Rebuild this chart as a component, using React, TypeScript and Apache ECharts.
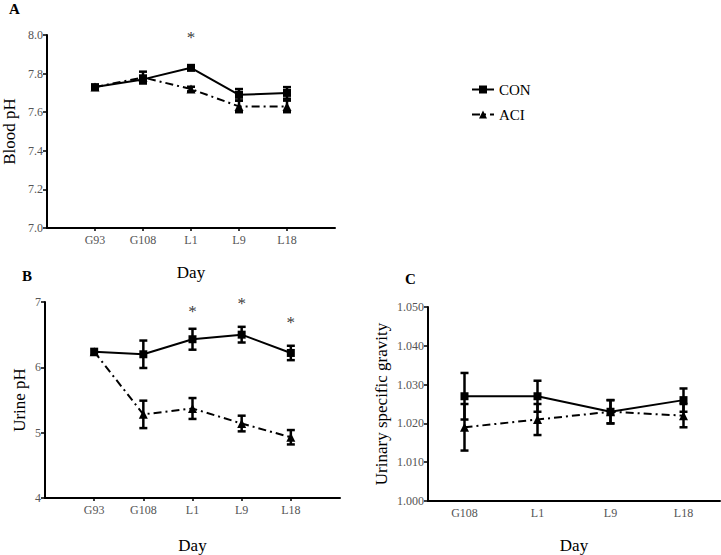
import React, { useEffect, useRef } from 'react';
import * as echarts from 'echarts';

const daysAB = ['G93', 'G108', 'L1', 'L9', 'L18'];
const daysC = ['G108', 'L1', 'L9', 'L18'];

const bloodCON = [7.73, 7.77, 7.83, 7.69, 7.7];
const bloodCONErr = [0, 0.02, 0.012, 0.03, 0.03];
const bloodACI = [7.73, 7.78, 7.72, 7.63, 7.63];
const bloodACIErr = [0, 0.03, 0.012, 0.03, 0.03];
const bloodSigDays = ['L1'];
const bloodSigY = [7.985];

const urineCON = [6.24, 6.2, 6.43, 6.5, 6.22];
const urineCONErr = [0, 0.21, 0.16, 0.12, 0.11];
const urineACI = [6.24, 5.28, 5.37, 5.14, 4.93];
const urineACIErr = [0, 0.21, 0.16, 0.12, 0.11];
const urineSigDays = ['L1', 'L9', 'L18'];
const urineSigY = [6.86, 6.97, 6.69];

const sgCON = [1.027, 1.027, 1.023, 1.026];
const sgCONErr = [0.006, 0.004, 0.003, 0.003];
const sgACI = [1.019, 1.021, 1.023, 1.022];
const sgACIErr = [0.006, 0.004, 0.003, 0.003];

const FONT = '"Liberation Serif", "Times New Roman", Times, serif';

function errSeries(axisIdx: number, xs: number[], vals: number[], errs: number[], z: number) {
  const data: number[][] = [];
  vals.forEach((v, i) => {
    if (errs[i] > 0) data.push([xs[i], v - errs[i], v + errs[i]]);
  });
  return {
    type: 'custom',
    xAxisIndex: axisIdx,
    yAxisIndex: axisIdx,
    encode: { x: 0, y: [1, 2] },
    data,
    z,
    silent: true,
    renderItem: (params: any, api: any) => {
      const x = api.value(0);
      const lo = api.value(1);
      const hi = api.value(2);
      const p1 = api.coord([x, hi]);
      const p2 = api.coord([x, lo]);
      const w = 4;
      const style = { stroke: '#000', lineWidth: 2.5 };
      return {
        type: 'group',
        children: [
          { type: 'line', shape: { x1: p1[0], y1: p1[1], x2: p2[0], y2: p2[1] }, style },
          { type: 'line', shape: { x1: p1[0] - w, y1: p1[1], x2: p1[0] + w, y2: p1[1] }, style },
          { type: 'line', shape: { x1: p2[0] - w, y1: p2[1], x2: p2[0] + w, y2: p2[1] }, style },
        ],
      };
    },
  };
}

function lineSeries(name: string, axisIdx: number, xs: number[], vals: number[], isCon: boolean) {
  return {
    type: 'line',
    name,
    xAxisIndex: axisIdx,
    yAxisIndex: axisIdx,
    data: vals.map((v, i) => [xs[i], v]),
    symbol: isCon ? 'rect' : 'triangle',
    symbolSize: isCon ? 8 : 9,
    itemStyle: { color: '#000' },
    lineStyle: isCon ? { color: '#000', width: 2 } : { color: '#000', width: 2, type: [8, 4, 2, 4] },
    z: isCon ? 5 : 4,
  };
}

function sigSeries(axisIdx: number, cats: string[], days: string[], ys: number[], offset: number) {
  return {
    type: 'scatter',
    xAxisIndex: axisIdx,
    yAxisIndex: axisIdx,
    symbolSize: 1,
    itemStyle: { color: 'rgba(0,0,0,0)' },
    silent: true,
    data: days.map((d, i) => [cats.indexOf(d) + offset, ys[i]]),
    label: {
      show: true,
      position: 'inside',
      formatter: '*',
      color: '#000',
      textBorderWidth: 0,
      fontSize: 17,
      fontFamily: FONT,
    },
  };
}

function xAxisAB(gridIndex: number, nameGap: number) {
  return {
    type: 'category',
    gridIndex,
    data: [' ', ...daysAB, '  '],
    boundaryGap: false,
    axisLine: { lineStyle: { color: '#000', width: 2 } },
    axisTick: { length: 3, lineStyle: { color: '#000', width: 1.5 }, interval: (i: number) => i >= 1 && i <= 5 },
    axisLabel: { color: '#555', fontSize: 12, fontFamily: FONT, interval: 0, margin: 6 },
    name: 'Day',
    nameLocation: 'middle',
    nameGap,
    nameTextStyle: { color: '#000', fontSize: 17, fontFamily: FONT },
    splitLine: { show: false },
  };
}

function yAxis(gridIndex: number, min: number, max: number, interval: number, digits: number, name: string, nameGap: number) {
  return {
    type: 'value',
    gridIndex,
    min,
    max,
    interval,
    axisLine: { show: true, lineStyle: { color: '#000', width: 2 } },
    axisTick: { show: true, length: 4, lineStyle: { color: '#000', width: 1.5 } },
    axisLabel: { color: '#555', fontSize: 12, fontFamily: FONT, margin: 4, formatter: (v: number) => v.toFixed(digits) },
    splitLine: { show: false },
    name,
    nameLocation: 'middle',
    nameGap,
    nameTextStyle: { color: '#000', fontSize: 17, fontFamily: FONT },
  };
}

export default function App() {
  const ref = useRef<HTMLDivElement>(null);
  useEffect(() => {
    if (!ref.current) return;
    const chart = echarts.init(ref.current, null, { renderer: 'svg' });
    const xsAB = daysAB.map((_, i) => i + 1);
    const xsC = daysC.map((_, i) => i);
    const option: any = {
      animation: false,
      textStyle: { fontFamily: FONT },
      grid: [
        { left: 44, top: 35, width: 291, height: 193 },
        { left: 45, top: 302, width: 295, height: 200 },
        { left: 428, top: 307, width: 292, height: 194 },
      ],
      xAxis: [
        xAxisAB(0, 36),
        xAxisAB(1, 39),
        {
          type: 'category',
          gridIndex: 2,
          data: daysC,
          boundaryGap: true,
          axisLine: { lineStyle: { color: '#000', width: 2 } },
          axisTick: { length: 3, alignWithLabel: true, lineStyle: { color: '#000', width: 1.5 } },
          axisLabel: { color: '#555', fontSize: 12, fontFamily: FONT, interval: 0, margin: 6 },
          name: 'Day',
          nameLocation: 'middle',
          nameGap: 36,
          nameTextStyle: { color: '#000', fontSize: 17, fontFamily: FONT },
        },
      ],
      yAxis: [
        yAxis(0, 7.0, 8.0, 0.2, 1, 'Blood pH', 29),
        yAxis(1, 4, 7, 1, 0, 'Urine pH', 17),
        yAxis(2, 1.0, 1.05, 0.01, 3, 'Urinary specific gravity', 38),
      ],
      legend: {
        left: 466,
        top: 77,
        orient: 'vertical',
        itemWidth: 22,
        itemHeight: 10,
        itemGap: 10,
        data: ['CON', 'ACI'],
        textStyle: { color: '#000', fontSize: 15, fontFamily: FONT },
      },
      graphic: [
        { type: 'text', left: 9, top: 1, style: { text: 'A', font: 'bold 15px "Liberation Serif", serif', fill: '#000' } },
        { type: 'text', left: 22, top: 268, style: { text: 'B', font: 'bold 15px "Liberation Serif", serif', fill: '#000' } },
        { type: 'text', left: 405, top: 271, style: { text: 'C', font: 'bold 15px "Liberation Serif", serif', fill: '#000' } },
      ],
      series: [
        errSeries(0, xsAB, bloodACI, bloodACIErr, 3),
        errSeries(0, xsAB, bloodCON, bloodCONErr, 3),
        lineSeries('ACI', 0, xsAB, bloodACI, false),
        lineSeries('CON', 0, xsAB, bloodCON, true),
        sigSeries(0, daysAB, bloodSigDays, bloodSigY, 1),
        errSeries(1, xsAB, urineACI, urineACIErr, 3),
        errSeries(1, xsAB, urineCON, urineCONErr, 3),
        lineSeries('ACI', 1, xsAB, urineACI, false),
        lineSeries('CON', 1, xsAB, urineCON, true),
        sigSeries(1, daysAB, urineSigDays, urineSigY, 1),
        errSeries(2, xsC, sgACI, sgACIErr, 3),
        errSeries(2, xsC, sgCON, sgCONErr, 3),
        lineSeries('ACI', 2, xsC, sgACI, false),
        lineSeries('CON', 2, xsC, sgCON, true),
      ],
    };
    chart.setOption(option);
    return () => chart.dispose();
  }, []);
  return <div ref={ref} style={{ width: 721, height: 555, position: 'absolute', left: 0, top: 0, background: '#fff' }} />;
}
